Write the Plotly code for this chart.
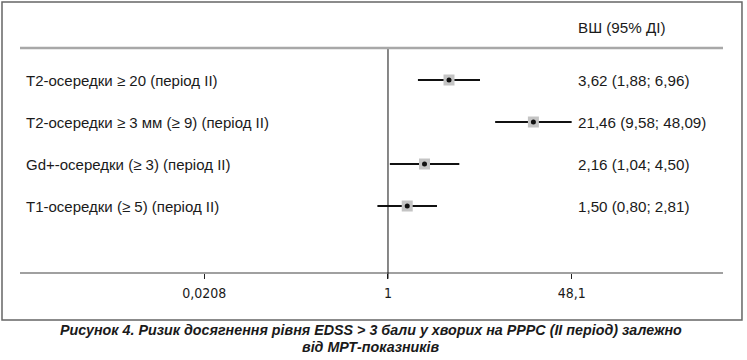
import plotly.graph_objects as go

labels = ["Т2-осередки ≥ 20 (період ІІ)",
          "Т2-осередки ≥ 3 мм (≥ 9) (період ІІ)",
          "Gd+-осередки (≥ 3) (період ІІ)",
          "Т1-осередки (≥ 5) (період ІІ)"]
odds = [3.62, 21.46, 2.16, 1.50]
lower = [1.88, 9.58, 1.04, 0.80]
upper = [6.96, 48.09, 4.50, 2.81]
tick_vals = [0.0208, 1, 48.1]
tick_text = ["0,0208", "1", "48,1"]
header = "ВШ (95% ДІ)"
caption_lines = ["Рисунок 4. Ризик досягнення рівня EDSS > 3 бали у хворих на РРРС (ІІ період) залежно",
                 "від МРТ-показників"]

rows = list(range(1, len(labels) + 1))

def fmt(v):
    return f"{v:.2f}".replace(".", ",")

ci_text = [f"{fmt(o)} ({fmt(l)}; {fmt(u)})" for o, l, u in zip(odds, lower, upper)]

FONT = "Liberation Sans, Arial, sans-serif"
NARROW = "DejaVu Sans Condensed, Liberation Sans Narrow, Arial Narrow, Liberation Sans, Arial, sans-serif"

fig = go.Figure()
fig.add_trace(go.Scatter(
    x=odds, y=rows, mode="markers",
    marker=dict(size=1, color="rgba(0,0,0,0)"),
    error_x=dict(type="data", symmetric=False,
                 array=[u - o for u, o in zip(upper, odds)],
                 arrayminus=[o - l for o, l in zip(odds, lower)],
                 width=0, thickness=2, color="#111"),
    hoverinfo="skip", showlegend=False))
fig.add_trace(go.Scatter(
    x=odds, y=rows, mode="markers",
    marker=dict(symbol="square", size=11, color="#c4c4c4", line=dict(width=0)),
    showlegend=False))
fig.add_trace(go.Scatter(
    x=odds, y=rows, mode="markers",
    marker=dict(symbol="circle", size=5, color="#111"),
    showlegend=False))

for r, lab, t in zip(rows, labels, ci_text):
    fig.add_annotation(x=0.005, xref="paper", y=r, yref="y", text=lab,
                       showarrow=False, xanchor="left", yanchor="middle",
                       font=dict(family=FONT, size=15, color="#1a1a1a"))
    fig.add_annotation(x=0.791, xref="paper", y=r, yref="y", text=t,
                       showarrow=False, xanchor="left", yanchor="middle",
                       font=dict(family=FONT, size=15.2, color="#1a1a1a"))

fig.add_annotation(x=0.791, xref="paper", y=1.0, yref="paper", yshift=21,
                   text=header, showarrow=False, xanchor="left", yanchor="middle",
                   font=dict(family=FONT, size=15.2, color="#1a1a1a"))

for i, line in enumerate(caption_lines):
    fig.add_annotation(x=0.5, xref="paper", y=-0.261 - 0.073 * i, yref="paper",
                       text=line, showarrow=False, xanchor="center", yanchor="middle",
                       xshift=-1,
                       font=dict(family=FONT, size=14.3, color="#1a1a1a",
                                 weight="bold", style="italic"))

fig.add_shape(type="line", xref="x", yref="paper", x0=1, x1=1, y0=-0.03, y1=1,
              line=dict(color="#111", width=1))
fig.add_shape(type="line", xref="paper", yref="paper", x0=0, x1=1, y0=1, y1=1,
              line=dict(color="#a8a8a8", width=2.5))
fig.add_shape(type="rect", xref="paper", yref="paper",
              x0=-0.0256, x1=1.027, y0=-0.2143, y1=1.2054,
              line=dict(color="#666", width=1.5))

fig.update_xaxes(type="log", range=[-3.370, 3.068], tickvals=tick_vals,
                 ticktext=tick_text, ticks="outside", ticklen=5, tickcolor="#222",
                 tickwidth=1, showgrid=False, zeroline=False, showline=True,
                 linecolor="#a0a0a0", linewidth=2, ticklabelstandoff=2,
                 tickfont=dict(family=NARROW, size=14, color="#1a1a1a"))
fig.update_yaxes(range=[5.571, 0.238], showgrid=False, zeroline=False,
                 showticklabels=False, showline=False, ticks="")

fig.update_layout(width=747, height=360, margin=dict(l=20, r=24, t=48, b=88),
                  plot_bgcolor="white", paper_bgcolor="white",
                  font=dict(family=FONT))

fig.write_html("out.html", config={"displayModeBar": False},
               post_script="document.body.style.margin='0';document.body.style.overflow='hidden';")
